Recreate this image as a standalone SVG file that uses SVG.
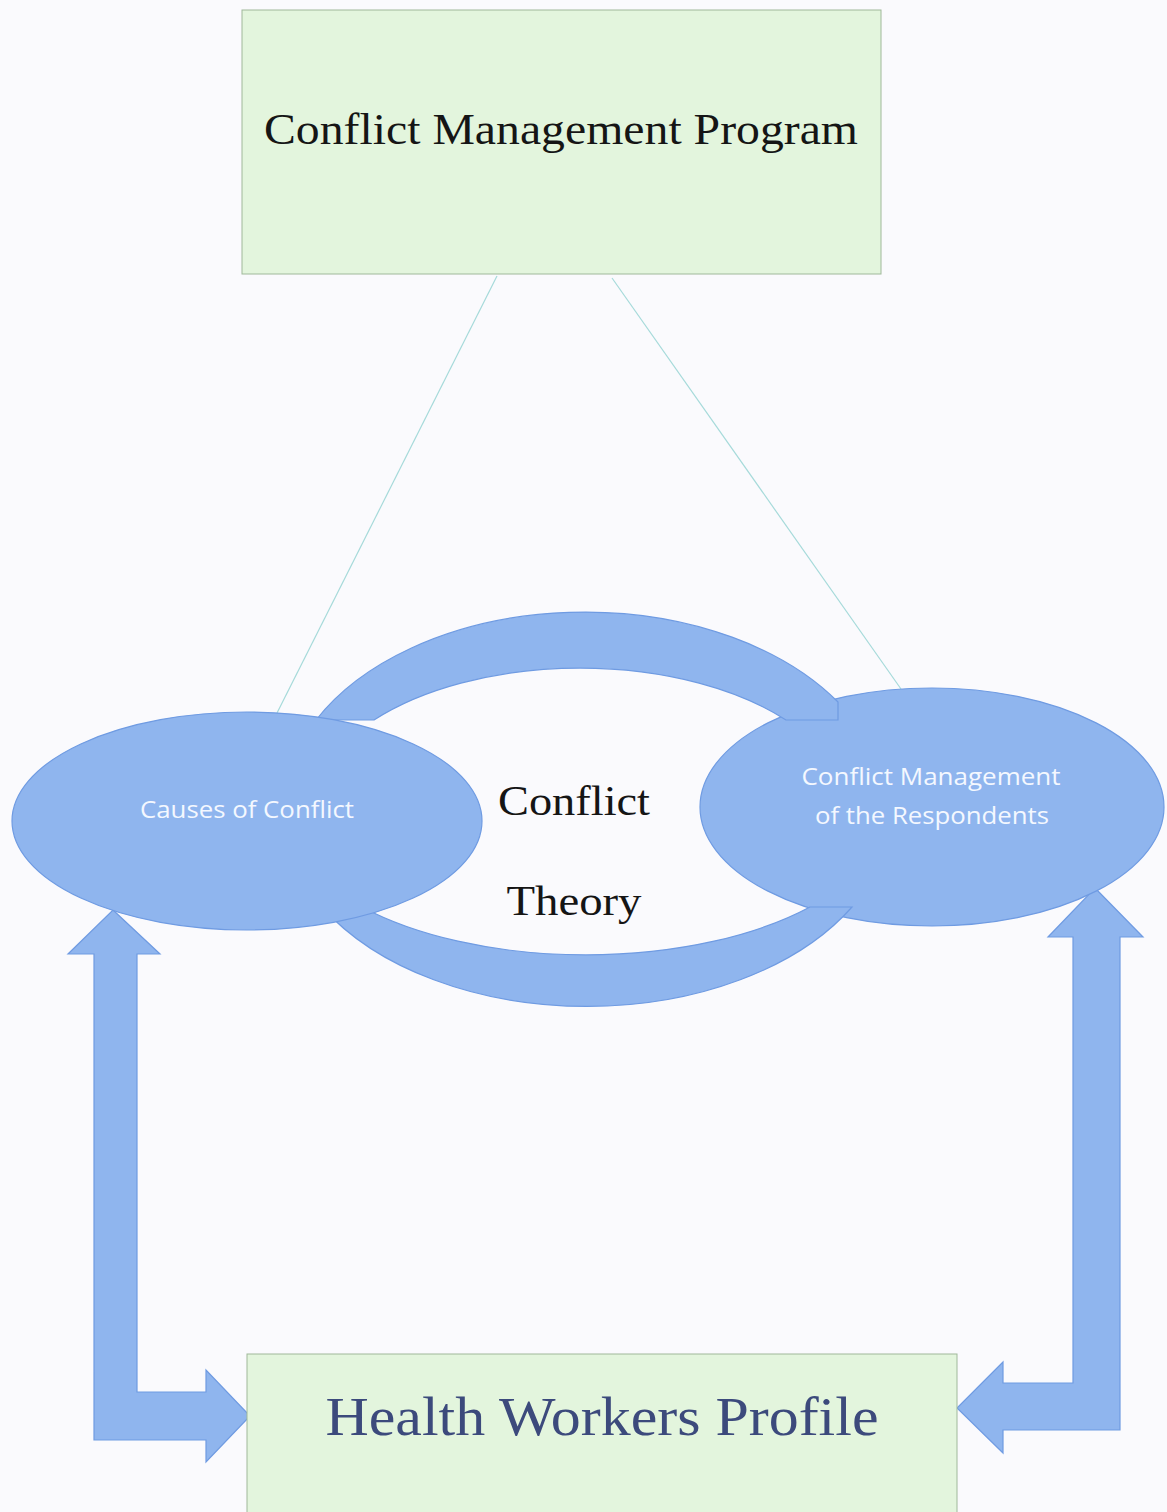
<svg xmlns="http://www.w3.org/2000/svg" width="1167" height="1512" viewBox="0 0 1167 1512">
  <style>
    .box { fill: #e3f5dd; stroke: #9fb89a; stroke-width: 1; }
    .blue { fill: #8fb5ee; stroke: #6f9be2; stroke-width: 1.2; }
    .link { stroke: #a6dada; stroke-width: 1.2; fill: none; }
    .serif { font-family: "Liberation Serif", "DejaVu Serif", serif; fill: #151515; }
    .sans { font-family: "Open Sans", "Liberation Sans", sans-serif; fill: #f4f8ff; }
  </style>
  <rect x="0" y="0" width="1167" height="1512" fill="#fafafd"/>

  <g id="connectors">
    <line class="link" x1="497" y1="276" x2="277" y2="713"/>
    <line class="link" x1="612" y1="278" x2="901" y2="689"/>
    <path id="arrow-left" class="blue" d="M113,910 L160,954 L137,954 L137,1392 L206,1392 L206,1370 L250,1416 L206,1462 L206,1440 L94,1440 L94,954 L68,954 Z"/>
    <path id="arrow-right" class="blue" d="M1095,888 L1143,937 L1120,937 L1120,1430 L1003,1430 L1003,1453 L957,1408 L1003,1362 L1003,1383 L1073,1383 L1073,937 L1048,937 Z"/>
  </g>

  <g id="node-program">
    <rect class="box" x="242" y="10" width="639" height="264"/>
    <text class="serif" x="561" y="144" font-size="44" text-anchor="middle" textLength="594" lengthAdjust="spacingAndGlyphs">Conflict Management Program</text>
  </g>

  <g id="node-respondents">
    <ellipse class="blue" cx="932" cy="807" rx="232" ry="119"/>
  </g>

  <g id="node-theory">
    <path class="blue" d="M316,720 A302,198 0 0,1 838,702 L838,720 L786,720 A268,144 0 0,0 374,720 Z"/>
    <path class="blue" d="M322,907 A305,197 0 0,0 852,907 L810,907 A300,143 0 0,1 362,907 Z"/>
    <text class="serif" x="574" y="815" font-size="42" text-anchor="middle" textLength="152" lengthAdjust="spacingAndGlyphs">Conflict</text>
    <text class="serif" x="574" y="915" font-size="42" text-anchor="middle" textLength="135" lengthAdjust="spacingAndGlyphs">Theory</text>
  </g>

  <g id="node-causes">
    <ellipse class="blue" cx="247" cy="821" rx="235" ry="109"/>
    <text class="sans" x="247" y="818" font-size="23" text-anchor="middle" textLength="214" lengthAdjust="spacingAndGlyphs">Causes of Conflict</text>
  </g>

  <g id="node-respondents-label">
    <text class="sans" x="931" y="785" font-size="23" text-anchor="middle" textLength="259" lengthAdjust="spacingAndGlyphs">Conflict Management</text>
    <text class="sans" x="932" y="824" font-size="23" text-anchor="middle" textLength="234" lengthAdjust="spacingAndGlyphs">of the Respondents</text>
  </g>

  <g id="node-profile">
    <rect class="box" x="247" y="1354" width="710" height="170"/>
    <text class="serif" x="602" y="1435" font-size="54" text-anchor="middle" fill="#3c4a7c" style="fill:#3c4a7c" textLength="553" lengthAdjust="spacingAndGlyphs">Health Workers Profile</text>
  </g>
</svg>
